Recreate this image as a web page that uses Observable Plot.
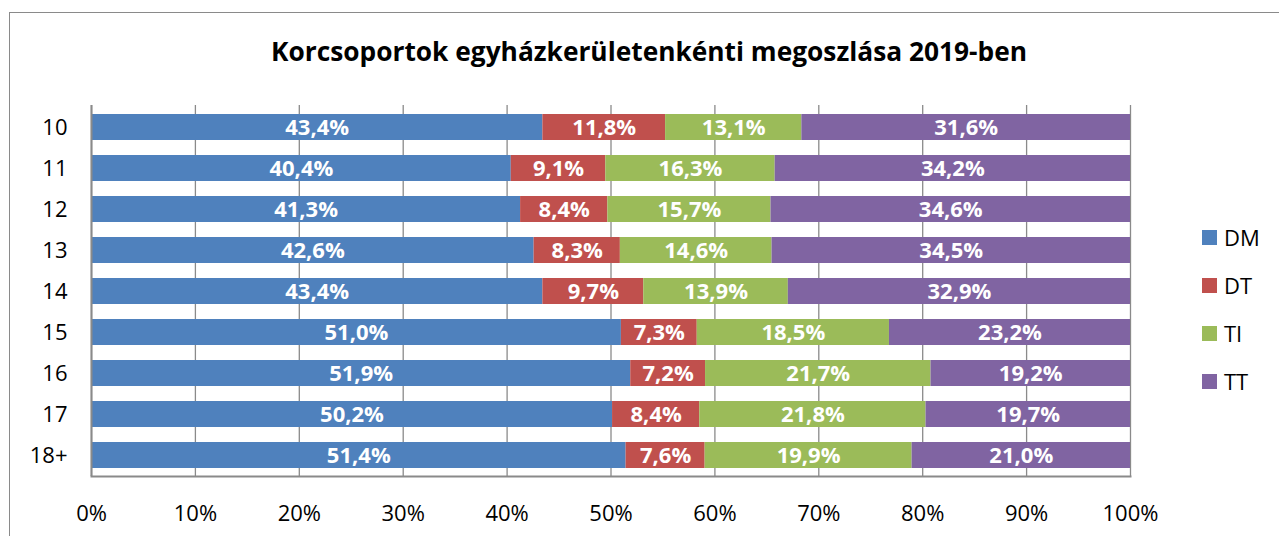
<!DOCTYPE html>
<html>
<head>
<meta charset="utf-8">
<script src="https://cdn.jsdelivr.net/npm/d3@7"></script>
<script src="https://cdn.jsdelivr.net/npm/@observablehq/plot@0.6"></script>
<style>
  html, body { margin: 0; padding: 0; background: #fff; overflow: hidden; }
  #wrap { position: relative; width: 1279px; height: 536px; font-family: "Open Sans", sans-serif; }
  #frame { position: absolute; left: 9px; top: 12px; width: 1400px; height: 700px; border: 1px solid #8a8a8a; box-sizing: border-box; }
  #title { position: absolute; left: 0; width: 1298px; top: 34px; text-align: center; font-weight: bold; font-size: 26.3px; color: #000; line-height: 34px; white-space: nowrap; }
  #chart { position: absolute; left: 0; top: 0; }
  #legend { position: absolute; left: 1202px; top: 222px; }
  .item { position: relative; height: 48px; }
  .sw { position: absolute; left: 0; top: 8px; width: 15px; height: 15px; }
  .lb { position: absolute; left: 22px; top: 0; font-size: 22px; line-height: 30px; color: #000; }
</style>
</head>
<body>
<div id="wrap">
  <div id="frame"></div>
  <div id="chart"></div>
  <div id="title">Korcsoportok egyházkerületenkénti megoszlása 2019-ben</div>
  <div id="legend"></div>
</div>
<script>
const ages = ["10", "11", "12", "13", "14", "15", "16", "17", "18+"];
const seriesNames = ["DM", "DT", "TI", "TT"];
const seriesColors = ["#4F81BD", "#C0504D", "#9BBB59", "#8064A2"];
const DM = [43.4, 40.4, 41.3, 42.6, 43.4, 51.0, 51.9, 50.2, 51.4];
const DT = [11.8, 9.1, 8.4, 8.3, 9.7, 7.3, 7.2, 8.4, 7.6];
const TI = [13.1, 16.3, 15.7, 14.6, 13.9, 18.5, 21.7, 21.8, 19.9];
const TT = [31.6, 34.2, 34.6, 34.5, 32.9, 23.2, 19.2, 19.7, 21.0];
const xTicks = [0, 0.1, 0.2, 0.3, 0.4, 0.5, 0.6, 0.7, 0.8, 0.9, 1];

const valuesBySeries = {DM, DT, TI, TT};
const data = [];
ages.forEach((a, i) => {
  seriesNames.forEach(s => data.push({age: a, series: s, value: valuesBySeries[s][i]}));
});
const fmt = v => v.toFixed(1).replace(".", ",") + "%";

const chart = Plot.plot({
  width: 1279,
  height: 536,
  marginLeft: 91,
  marginRight: 149,
  marginTop: 105,
  marginBottom: 60,
  style: {fontFamily: "Open Sans, sans-serif", fontSize: "22px", color: "#000", background: "transparent", overflow: "visible"},
  x: {domain: [0, 1], ticks: xTicks, tickFormat: d => Math.round(d * 100) + "%", label: null},
  y: {domain: ages, paddingInner: 0.37, paddingOuter: 0.185, label: null},
  color: {domain: seriesNames, range: seriesColors},
  marks: [
    Plot.ruleX(xTicks, {stroke: "#8a8a8a", strokeWidth: 1.3}),
    Plot.barX(data, Plot.stackX({x: "value", y: "age", fill: "series", z: "series", offset: "normalize", order: seriesNames})),
    Plot.text(data, Plot.stackX({x: "value", y: "age", z: "series", offset: "normalize", order: seriesNames,
      text: d => fmt(d.value), fill: "white", fontWeight: "bold", fontSize: 22})),
    Plot.frame({anchor: "bottom", stroke: "#8a8a8a", strokeWidth: 2}),
    Plot.ruleX([0], {stroke: "#8a8a8a", strokeWidth: 2}),
    Plot.axisX({ticks: xTicks, tickFormat: d => Math.round(d * 100) + "%", tickSize: 0, tickPadding: 29, fontSize: 22, label: null}),
    Plot.axisY({tickSize: 0, tickPadding: 24, fontSize: 22, label: null})
  ]
});
document.getElementById("chart").appendChild(chart);

const legend = document.getElementById("legend");
seriesNames.forEach((s, i) => {
  const it = document.createElement("div");
  it.className = "item";
  it.innerHTML = `<div class="sw" style="background:${seriesColors[i]}"></div><div class="lb">${s}</div>`;
  legend.appendChild(it);
});
</script>
</body>
</html>
